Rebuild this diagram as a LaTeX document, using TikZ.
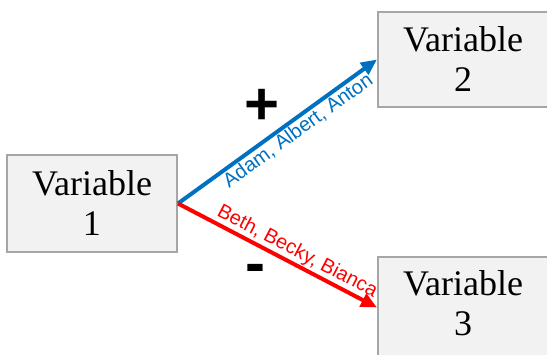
\documentclass[tikz,border=0pt]{standalone}
\usepackage{fontspec}
\setmainfont{Liberation Serif}
\newfontfamily\labelfont{Liberation Sans}
\usetikzlibrary{arrows.meta}
\definecolor{linkblue}{HTML}{0070C0}
\definecolor{linkred}{HTML}{FF0000}
\definecolor{boxgray}{HTML}{A6A6A6}
\definecolor{boxfill}{HTML}{F2F2F2}
\begin{document}
\begin{tikzpicture}[x=1pt,y=-1pt,
  varbox/.style={draw=boxgray, line width=2pt, fill=boxfill, minimum width=170pt,
    align=center, inner sep=0pt, font=\fontsize{36}{40}\selectfont},
  link/.style={line width=4pt, -{Triangle[length=16pt,width=14pt]}},
  linklabel/.style={sloped, pos=0.57, inner sep=1pt, font=\labelfont\fontsize{20}{24}\selectfont},
  signmark/.style={inner sep=0pt, font=\labelfont\bfseries\fontsize{60}{60}\selectfont}]
\useasboundingbox (0,0) rectangle (547,355);
\node[varbox, minimum height=97pt] (v1) at (92,203.5) {Variable\\1};
\node[varbox, minimum height=95pt] (v2) at (463,59.5) {Variable\\2};
\node[varbox, minimum height=101pt, text depth=9.6pt] (v3) at (463,307.5) {Variable\\3};
\draw[link, draw=linkblue, fill=linkblue] (v1.east) -- (v2.west)
  node[linklabel, below, text=linkblue] (lblue) {Adam, Albert, Anton};
\draw[link, draw=linkred, fill=linkred] (v1.east) -- (v3.west)
  node[linklabel, above, text=linkred] (lred) {Beth, Becky, Bianca};
\node[signmark] (plus) at (262,107) {+};
\node[signmark] (minus) at (255,274) {-};
\end{tikzpicture}
\end{document}
